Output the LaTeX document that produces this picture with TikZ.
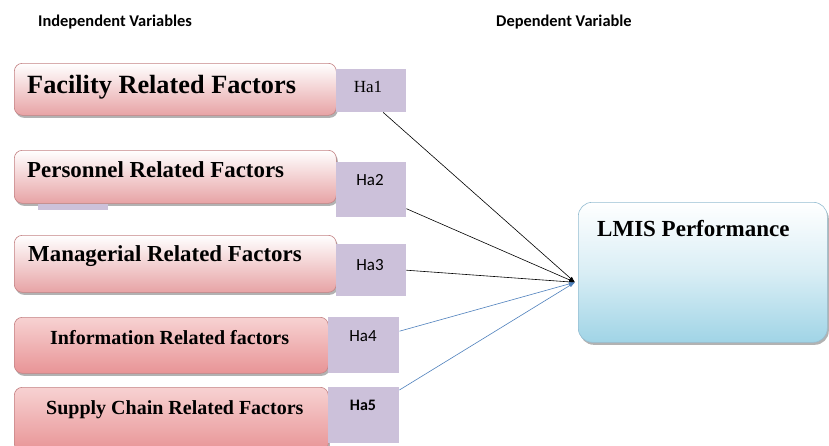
\documentclass[tikz,border=0pt]{standalone}
\usepackage{fontspec}
\setmainfont{Liberation Serif}
\newfontfamily\calib{Carlito}
\usetikzlibrary{shadows,calc,arrows.meta}
\definecolor{pinkA}{RGB}{231,163,165}
\definecolor{pinkT}{RGB}{247,210,210}
\definecolor{pinkB}{RGB}{232,148,150}
\definecolor{pinkLine}{RGB}{196,130,132}
\definecolor{lav}{RGB}{204,193,218}
\definecolor{lblue}{RGB}{160,212,230}
\definecolor{blueLine}{RGB}{150,190,210}
\definecolor{arrBlue}{RGB}{79,129,189}
\begin{document}
\begin{tikzpicture}[x=1pt,y=-1pt,
  box/.style={draw=pinkLine, line width=0.6pt, rounded corners=8pt, anchor=north west, inner sep=0pt,
     drop shadow={shadow xshift=1.5pt, shadow yshift=-2.5pt, fill=black, opacity=0.3}},
  factorA/.style={box, top color=white, bottom color=pinkA},
  factorB/.style={box, top color=pinkT, bottom color=pinkB},
  hyp/.style={fill=lav, anchor=north west, inner sep=0pt},
  title/.style={font=\bfseries, anchor=west, inner sep=0pt},
  htext/.style={inner sep=0pt, anchor=center},
  head/.style={font=\calib\bfseries\fontsize{16.4}{19}\selectfont, anchor=west, inner sep=0pt},
  conn/.style={line width=0.6pt, -{Latex[length=6pt,width=4pt]}}]
\clip (0,0) rectangle (829,445);
\fill[white] (0,0) rectangle (829,445);

% headings
\node[head] (hind) at (38,22) {Independent Variables};
\node[head] (hdep) at (496,22) {Dependent Variable};

% factor boxes
\node[factorA, minimum width=322pt, minimum height=52pt] (f1) at (14,63) {};
\node[factorA, minimum width=322pt, minimum height=53pt] (f2) at (14,150) {};
\node[factorA, minimum width=322pt, minimum height=57pt] (f3) at (14,235) {};
\node[factorB, minimum width=314pt, minimum height=56pt] (f4) at (14,317) {};
\node[factorB, minimum width=314pt, minimum height=64pt] (f5) at (14,387) {};

% small bar under personnel
\node[fill=lav, anchor=north west, inner sep=0pt, minimum width=70pt, minimum height=6pt] (bar) at (38,204) {};

% hypothesis boxes
\node[hyp, minimum width=70pt, minimum height=43pt] (h1) at (336,69) {};
\node[hyp, minimum width=70pt, minimum height=55pt] (h2) at (336,162) {};
\node[hyp, minimum width=70pt, minimum height=52pt] (h3) at (336,244) {};
\node[hyp, minimum width=71pt, minimum height=56pt] (h4) at (328,317) {};
\node[hyp, minimum width=71pt, minimum height=56pt] (h5) at (328,387) {};

% titles
\node[title, font=\bfseries\fontsize{26.3}{30}\selectfont] (t1) at (27,87) {Facility Related Factors};
\node[title, font=\bfseries\fontsize{22.9}{26}\selectfont] (t2) at (27,170) {Personnel Related Factors};
\node[title, font=\bfseries\fontsize{22.9}{26}\selectfont] (t3) at (28,256) {Managerial Related Factors};
\node[title, font=\bfseries\fontsize{20}{23}\selectfont] (t4) at (50,338) {Information Related factors};
\node[title, font=\bfseries\fontsize{20}{23}\selectfont] (t5) at (46,410) {Supply Chain Related Factors};

% hypothesis labels
\node[htext, font=\fontsize{17}{19}\selectfont] (l1) at (368,87) {Ha1};
\node[htext, font=\calib\fontsize{17}{19}\selectfont] (l2) at (370,180) {Ha2};
\node[htext, font=\calib\fontsize{17}{19}\selectfont] (l3) at (370,265) {Ha3};
\node[htext, font=\calib\fontsize{17}{19}\selectfont] (l4) at (363,336) {Ha4};
\node[htext, font=\calib\bfseries\fontsize{16}{19}\selectfont] (l5) at (363,405) {Ha5};

% dependent
\node[draw=blueLine, line width=0.6pt, rounded corners=14pt, anchor=north west, inner sep=0pt,
  minimum width=249pt, minimum height=140pt, top color=white, bottom color=lblue, middle color=white!60!lblue,
  drop shadow={shadow xshift=1.5pt, shadow yshift=-2.5pt, fill=black, opacity=0.3}] (lmis) at (578,202) {};
\node[title, font=\bfseries\fontsize{23}{26}\selectfont] (tl) at (597,229) {LMIS Performance};

% connectors
\coordinate (tgt) at ($(lmis.west)+(-3,10)$);
\draw[conn] ($(h1.south)+(12,0)$) -- (tgt);
\draw[conn] ($(h2.east)+(0,19)$) -- (tgt);
\draw[conn] (h3.east) -- (tgt);
\draw[conn, arrBlue] ($(h4.east)+(0,-14)$) -- (tgt);
\draw[conn, arrBlue] ($(h5.north east)+(0,3)$) -- (tgt);
\end{tikzpicture}
\end{document}
